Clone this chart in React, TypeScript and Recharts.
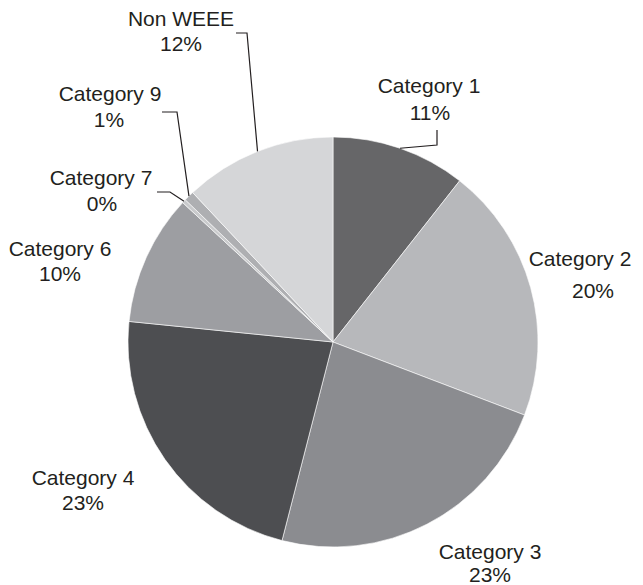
import { PieChart, Pie, Cell } from 'recharts';

const categories = ['Category 1', 'Category 2', 'Category 3', 'Category 4', 'Category 6', 'Category 7', 'Category 9', 'Non WEEE'];
const shares = [10.6, 20.2, 23.2, 22.6, 10.3, 0.3, 0.8, 12.0];
const percentLabels = ['11%', '20%', '23%', '23%', '10%', '0%', '1%', '12%'];

const COLORS = ['#666668', '#b7b8bb', '#8b8c90', '#4d4e51', '#9d9ea2', '#c9cacc', '#aeafb2', '#d5d6d8'];

// label placement relative to the pie centre: [x1, y1, x2, y2] for the two text lines
const LABEL_POS: number[][] = [
  [96, -257, 97, -230],
  [247, -84, 260, -52],
  [157, 209, 157, 232],
  [-250, 135, -250, 160],
  [-273, -94, -273, -69],
  [-232, -165, -231, -139],
  [-223, -249, -224, -223],
  [-152, -324, -152, -299],
];

// leader lines: elbow point then end point (relative to centre), null = no leader
const LEADERS: (number[] | null)[] = [
  [104, -197, 104, -212],
  null,
  null,
  null,
  null,
  [-163, -150, -176, -150],
  [-156, -230, -171, -230],
  [-86, -309, -97, -309],
];

const data = categories.map((name, i) => ({ name, value: shares[i] }));

const RAD = Math.PI / 180;

function renderLabel(props: any) {
  const { cx, cy, midAngle, outerRadius, index } = props;
  const pos = LABEL_POS[index];
  const leader = LEADERS[index];
  const sx = cx + outerRadius * Math.cos(-midAngle * RAD);
  const sy = cy + outerRadius * Math.sin(-midAngle * RAD);
  return (
    <g key={`lbl-${index}`}>
      {leader && (
        <polyline
          points={`${sx},${sy} ${cx + leader[0]},${cy + leader[1]} ${cx + leader[2]},${cy + leader[3]}`}
          fill="none"
          stroke="#231f20"
          strokeWidth={1.2}
        />
      )}
      <text x={cx + pos[0]} y={cy + pos[1]} textAnchor="middle" dominantBaseline="central" fill="#231f20" fontSize={21}>
        {categories[index]}
      </text>
      <text x={cx + pos[2]} y={cy + pos[3]} textAnchor="middle" dominantBaseline="central" fill="#231f20" fontSize={21}>
        {percentLabels[index]}
      </text>
    </g>
  );
}

export default function App() {
  return (
    <div style={{ position: 'absolute', left: 0, top: 0, width: 643, height: 585, background: '#fff', fontFamily: '"Liberation Sans", Arial, Helvetica, sans-serif' }}>
      <PieChart width={643} height={585} margin={{ top: 0, right: 0, bottom: 0, left: 0 }}>
        <Pie
          data={data}
          dataKey="value"
          nameKey="name"
          cx={333}
          cy={342}
          outerRadius={205}
          startAngle={90}
          endAngle={-270}
          stroke="#ffffff"
          strokeWidth={0.6}
          label={renderLabel}
          labelLine={false}
          isAnimationActive={false}
        >
          {data.map((d, i) => (
            <Cell key={d.name} fill={COLORS[i]} />
          ))}
        </Pie>
      </PieChart>
    </div>
  );
}
